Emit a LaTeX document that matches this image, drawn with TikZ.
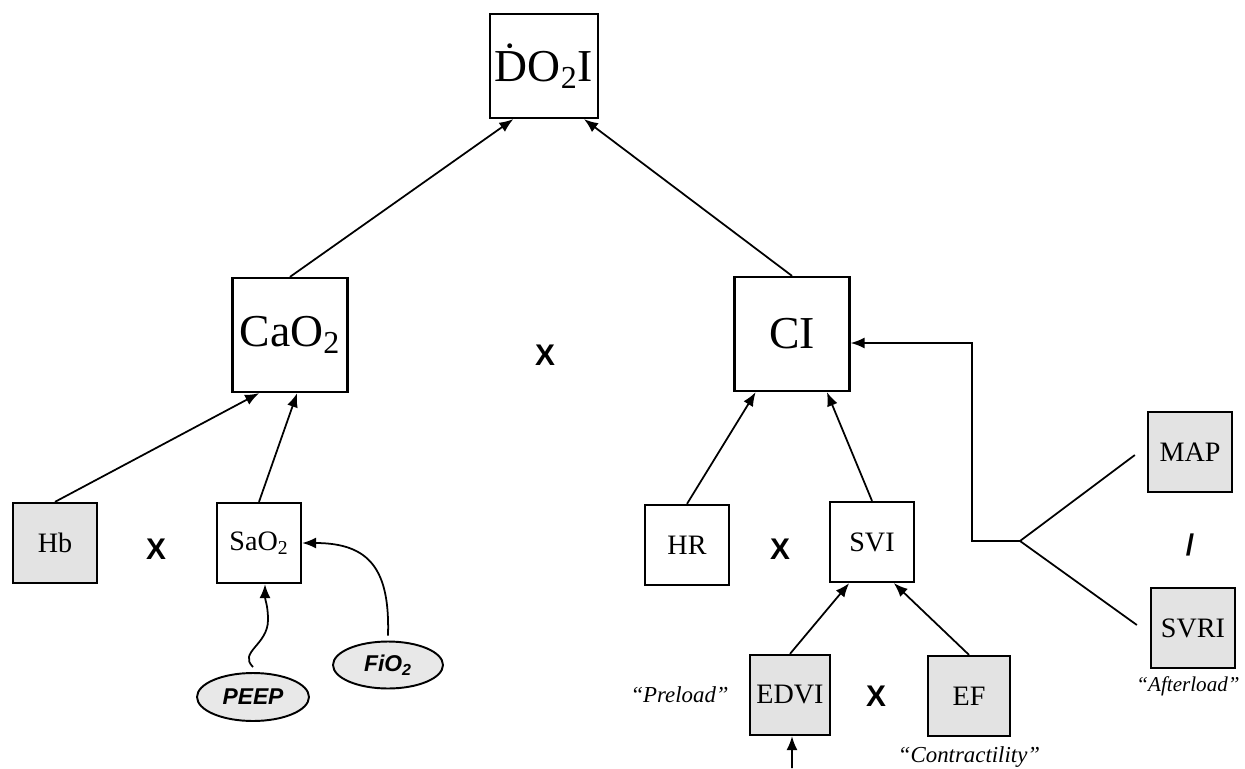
\documentclass[tikz,border=0pt]{standalone}
\usepackage{fontspec}
\setmainfont{Liberation Serif}
\setsansfont{Liberation Sans}
\usetikzlibrary{positioning, arrows.meta, calc, shapes.geometric}
\tikzset{
  bigbox/.style={rectangle, draw=black, line width=1.3pt, minimum width=2.3cm, minimum height=2.28cm, inner sep=0pt, font=\fontsize{26}{28}\selectfont},
  smallbox/.style={rectangle, draw=black, line width=1.3pt, minimum width=1.68cm, minimum height=1.6cm, inner sep=0pt, font=\fontsize{16}{18}\selectfont},
  inputbox/.style={smallbox, fill=gray!22},
  setting/.style={ellipse, draw=black, line width=1.1pt, fill=gray!18, minimum width=2.24cm, minimum height=0.96cm, inner sep=0pt, font=\sffamily\bfseries\itshape\fontsize{13}{15}\selectfont},
  op/.style={font=\sffamily\bfseries\fontsize{17}{19}\selectfont},
  tag/.style={font=\itshape\fontsize{13}{15}\selectfont},
  arrow/.style={line width=1pt, -{Latex[length=2.8mm, width=2.2mm]}},
  link/.style={line width=1pt}
}

\begin{document}
\begin{tikzpicture}[x=0.02cm, y=-0.02cm]
  \useasboundingbox (0,0) rectangle (1245,768);

  % 1. Oxygen delivery and its two factors
  \node[bigbox, minimum width=2.16cm, minimum height=2.08cm] (do2i) at (544,66) {\.{D}O\textsubscript{2}I};
  \node[bigbox] (cao2) at (290,335) {CaO\textsubscript{2}};
  \node[bigbox] (ci) at (792,334) {CI};
  \node[op] (x1) at (545,355) {X};

  % 2. Oxygen content
  \node[inputbox] (hb) at (55,543) {Hb};
  \node[smallbox] (sao2) at (259,543) {SaO\textsubscript{2}};
  \node[op] (x2) at (156,549) {X};
  \node[setting] (peep) at (253,697) {PEEP};
  \node[setting, minimum width=2.2cm, minimum height=0.94cm] (fio2) at (388,665) {FiO\textsubscript{2}};

  % 3. Cardiac index
  \node[smallbox] (hr) at (687,545) {HR};
  \node[smallbox] (svi) at (872,542) {SVI};
  \node[op] (x3) at (780,549) {X};
  \node[inputbox, minimum width=1.6cm] (edvi) at (790,695) {EDVI};
  \node[inputbox, minimum width=1.64cm] (ef) at (969,696) {EF};
  \node[op] (x4) at (876,696) {X};
  \node[tag, left=0.28cm of edvi] (preload) {``Preload''};
  \node[tag, below=0.06cm of ef] (contract) {``Contractility''};

  % 4. Afterload
  \node[inputbox] (map) at (1190,452) {MAP};
  \node[inputbox] (svri) at (1193,628) {SVRI};
  \node[op] (slash) at (1190,545) {/};
  \node[tag, below=0.02cm of svri, xshift=-0.1cm, font=\itshape\fontsize{12}{14}\selectfont] (afterload) {``Afterload''};

  % Arrows
  \draw[arrow] (cao2.north) -- (do2i.240);
  \draw[arrow] (ci.north) -- (do2i.307);
  \draw[arrow] (hb.north) -- (cao2.242);
  \draw[arrow] (sao2.north) -- (cao2.277);
  \draw[arrow] (hr.north) -- (ci.238);
  \draw[arrow] (svi.north) -- (ci.301);
  \draw[arrow] (edvi.north) -- (svi.241);
  \draw[arrow] (ef.north) -- (svi.298);

  \coordinate (fork) at (1020,541);
  \draw[link] ([xshift=-0.24cm, yshift=-0.06cm]map.west) -- (fork) -- ([xshift=-0.26cm, yshift=0.06cm]svri.west);
  \draw[arrow] (fork) -- ++(-48,0) |- ([yshift=-0.18cm]ci.east);

  \coordinate (peepbend) at (268,620);
  \draw[arrow] ([yshift=0.1cm]peep.north) .. controls (238,652) and (268,645) .. (peepbend) .. controls (268,605) and (265,600) .. ([xshift=0.12cm]sao2.south);
  \draw[arrow] ([yshift=0.1cm]fio2.north) .. controls (390,570) and (370,543) .. (sao2.east);

  \coordinate (edvifoot) at (792,768);
  \draw[arrow] (edvifoot) -- ([xshift=0.04cm]edvi.south);
\end{tikzpicture}
\end{document}
